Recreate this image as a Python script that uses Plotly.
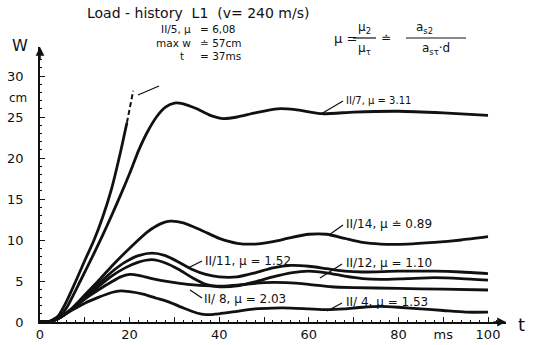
import plotly.graph_objects as go

# ---------------- data ----------------
t_II5 = [0, 2, 4, 6, 8, 10, 12, 14, 16, 18, 19.4]
w_II5 = [0, 0.05, 0.7, 2.6, 5.0, 7.5, 9.9, 12.8, 16.3, 20.8, 24.3]
t_II5_dash = [19.4, 20.1, 20.8]
w_II5_dash = [24.3, 26.3, 28.2]

t_II7 = [0, 2, 4, 6, 9, 12, 14, 16, 18, 20, 22, 24, 26, 28, 30, 32, 35, 38, 41, 44, 48, 53, 57, 63, 70, 80, 90, 100]
w_II7 = [0, 0.05, 0.4, 1.8, 5.0, 8.3, 10.6, 13.0, 15.5, 18.1, 20.9, 23.2, 25.0, 26.2, 26.7, 26.6, 26.0, 25.2, 24.8, 25.0, 25.5, 26.0, 25.9, 25.4, 25.6, 25.7, 25.5, 25.2]

t_II14 = [0, 2, 4, 7, 10, 13, 16, 20, 24, 27, 29, 32, 36, 40, 44, 48, 52, 56, 60, 64, 68, 72, 76, 82, 88, 94, 100]
w_II14 = [0, 0.05, 0.4, 1.6, 3.3, 5.0, 6.8, 9.0, 11.0, 12.0, 12.3, 12.1, 11.2, 10.2, 9.6, 9.5, 9.8, 10.3, 10.7, 10.7, 10.2, 9.7, 9.5, 9.5, 9.7, 10.0, 10.4]

t_II11 = [0, 2, 4, 7, 10, 13, 16, 19, 22, 25, 28, 31, 34, 37, 40, 44, 48, 52, 56, 60, 64, 68, 72, 80, 88, 94, 100]
w_II11 = [0, 0.05, 0.4, 1.5, 3.0, 4.6, 6.1, 7.3, 8.1, 8.4, 8.1, 7.3, 6.4, 5.8, 5.5, 5.5, 6.0, 6.6, 6.9, 6.8, 6.5, 6.2, 6.1, 6.2, 6.2, 6.1, 5.9]

t_II12 = [0, 2, 4, 7, 10, 13, 16, 19, 22, 25, 28, 31, 34, 37, 40, 44, 48, 52, 56, 60, 64, 68, 72, 76, 82, 88, 94, 100]
w_II12 = [0, 0.05, 0.4, 1.5, 2.9, 4.3, 5.6, 6.6, 7.3, 7.6, 7.2, 6.4, 5.4, 4.6, 4.3, 4.4, 4.9, 5.5, 6.0, 6.2, 6.0, 5.6, 5.3, 5.2, 5.3, 5.4, 5.3, 5.1]

t_II8 = [0, 2, 4, 7, 10, 13, 16, 18, 20, 22, 25, 29, 33, 38, 42, 46, 50, 55, 60, 65, 70, 80, 90, 100]
w_II8 = [0, 0.05, 0.4, 1.5, 2.8, 3.9, 4.9, 5.5, 5.8, 5.7, 5.3, 4.9, 4.6, 4.4, 4.4, 4.6, 4.8, 4.8, 4.6, 4.3, 4.2, 4.1, 4.0, 3.9]

t_II4 = [0, 2, 4, 7, 10, 13, 16, 18, 20, 23, 26, 29, 32, 35, 37, 40, 44, 48, 52, 56, 60, 64, 68, 72, 76, 80, 85, 90, 95, 100]
w_II4 = [0, 0.05, 0.4, 1.4, 2.3, 3.0, 3.6, 3.8, 3.7, 3.4, 2.9, 2.4, 1.7, 1.1, 0.9, 1.0, 1.3, 1.6, 1.7, 1.7, 1.6, 1.5, 1.6, 1.8, 1.9, 1.8, 1.6, 1.4, 1.2, 1.2]

x_tickvals = [0, 10, 20, 30, 40, 50, 60, 70, 80, 90, 100]
x_ticktext = ["0", "", "20", "", "40", "", "60", "", "80", "ms", "100"]
y_tickvals = [0, 5, 10, 15, 20, 25, 30]
y_ticktext = ["0", "5", "10", "15", "20", "25", "30"]

# ---------------- layout geometry ----------------
W, H = 536, 345
ML, MR, MT, MB = 40, 30, 47, 23
PW, PH = W - ML - MR, H - MT - MB
XR = [0, PW / 4.48]
YR = [0, PH / 8.2]


def px(x):
    return (x - ML) / PW


def py(y):
    return (H - MB - y) / PH


FONT = "DejaVu Sans"
INK = "#111111"

fig = go.Figure()
curve = dict(color=INK, width=2.8, shape="spline", smoothing=0.6)
for tt, ww in [(t_II5, w_II5), (t_II7, w_II7), (t_II14, w_II14), (t_II11, w_II11),
               (t_II12, w_II12), (t_II8, w_II8), (t_II4, w_II4)]:
    fig.add_trace(go.Scatter(x=tt, y=ww, mode="lines", line=curve, hoverinfo="skip", showlegend=False))
fig.add_trace(go.Scatter(x=t_II5_dash, y=w_II5_dash, mode="lines",
                         line=dict(color=INK, width=2, dash="5px,3px"), showlegend=False))

ann = []
shapes = []


def text(x, y, s, size=12, xanchor="left", align="left"):
    ann.append(dict(xref="paper", yref="paper", x=px(x), y=py(y), text=s, showarrow=False,
                    xanchor=xanchor, yanchor="middle", align=align,
                    font=dict(family=FONT, size=size, color=INK)))


def seg(x0, y0, x1, y1, w=1.3):
    shapes.append(dict(type="line", xref="paper", yref="paper", x0=px(x0), y0=py(y0), x1=px(x1), y1=py(y1),
                       line=dict(color=INK, width=w)))


# title and formula
text(85, 13, "Load - history  L1  (v= 240 m/s)", size=14)
text(332, 38, "μ =", size=13)
text(364, 28, "μ<sub>2</sub>", size=12, xanchor="center")
seg(353, 38, 376, 38, 1.2)
text(364, 49, "μ<sub>τ</sub>", size=12, xanchor="center")
text(386, 38, "≐", size=12, xanchor="center")
text(424, 28, "a<sub>s2</sub>", size=12, xanchor="center")
seg(406, 38, 466, 38, 1.2)
text(436, 49, "a<sub>sτ</sub>·d", size=12, xanchor="center")

# axis labels
text(20, 46, "W", size=16, xanchor="center")
text(18, 98, "cm", size=12, xanchor="center")
text(521, 324, "t", size=18, xanchor="center")

# curve labels
text(193, 42, "II/5, μ<br>max w<br>t  ", size=10.5, xanchor="right", align="right")
text(198, 42, "= 6,08<br>≐ 57cm<br>= 37ms", size=10.5)
seg(138, 95, 159, 86)

text(344, 100, "II/7, μ = 3.11", size=10)
seg(321, 114, 343, 101)
text(344, 224, "II/14, μ ≐ 0.89", size=12)
seg(329, 235, 343, 225)
text(203, 261, "II/11, μ = 1.52", size=12)
seg(188, 268, 202, 261)
text(344, 263, "II/12, μ = 1.10", size=12)
seg(320, 278, 342, 264)
text(202, 299, "II/ 8, μ = 2.03", size=12)
seg(190, 290, 202, 298)
text(344, 302, "II/ 4, μ = 1.53", size=12)
seg(327, 311, 342, 303)

# axis arrows
ann.append(dict(xref="x", yref="paper", x=XR[1], y=0, axref="pixel", ayref="pixel", ax=-14, ay=0,
                showarrow=True, arrowhead=2, arrowsize=1.1, arrowwidth=1.6, arrowcolor=INK, text=""))
ann.append(dict(xref="paper", yref="y", x=0, y=YR[1], axref="pixel", ayref="pixel", ax=0, ay=14,
                showarrow=True, arrowhead=2, arrowsize=1.1, arrowwidth=1.6, arrowcolor=INK, text=""))

axis_font = dict(family=FONT, size=13, color=INK)
fig.update_layout(
    width=W, height=H,
    margin=dict(l=ML, r=MR, t=MT, b=MB, autoexpand=False),
    paper_bgcolor="white", plot_bgcolor="white",
    showlegend=False,
    annotations=ann, shapes=shapes,
    xaxis=dict(range=XR, showgrid=False, zeroline=False, showline=True, linecolor=INK, linewidth=1.6,
               tickmode="array", tickvals=x_tickvals, ticktext=x_ticktext, ticks="inside", ticklen=5,
               tickwidth=1.4, tickcolor=INK, tickfont=axis_font, automargin=False,
               minor=dict(dtick=2, ticks="inside", ticklen=2, tickwidth=1, tickcolor=INK)),
    yaxis=dict(range=YR, showgrid=False, zeroline=False, showline=True, linecolor=INK, linewidth=1.6,
               tickmode="array", tickvals=y_tickvals, ticktext=y_ticktext, ticks="inside", ticklen=5,
               tickwidth=1.4, tickcolor=INK, tickfont=axis_font, automargin=False, ticklabelstandoff=12,
               minor=dict(dtick=1, ticks="inside", ticklen=2, tickwidth=1, tickcolor=INK)),
)

fig.write_html("out.html")
